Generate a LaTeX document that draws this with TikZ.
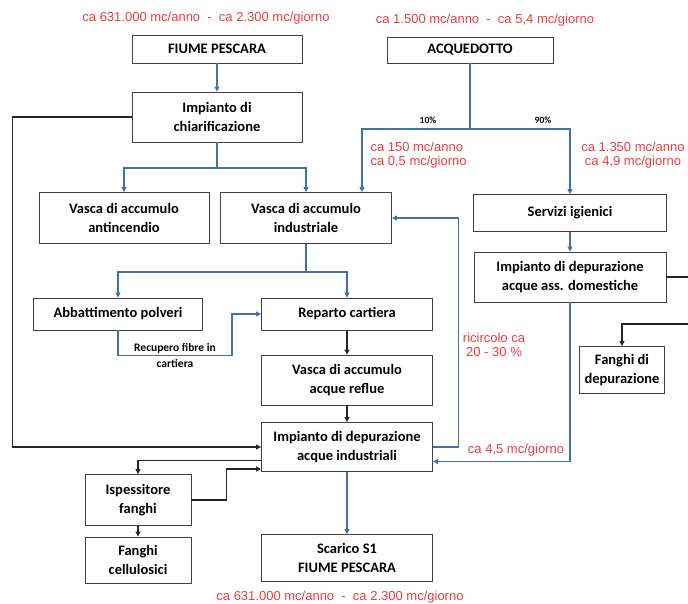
\documentclass[tikz,border=0pt]{standalone}
\usepackage{fontspec}
\setmainfont{Carlito}
\newfontfamily\redfont{Liberation Sans}
\usetikzlibrary{arrows.meta}
\definecolor{flowblue}{RGB}{65,113,170}
\definecolor{flowred}{RGB}{238,60,60}
\tikzset{
  box/.style={draw=black!75, line width=0.9pt, fill=white, align=center,
    inner sep=2pt, font=\bfseries\fontsize{14.5}{19}\selectfont},
  redtext/.style={text=flowred, font=\redfont\fontsize{13}{14.5}\selectfont},
  pct/.style={font=\bfseries\fontsize{9.5}{10}\selectfont, above},
  small/.style={font=\bfseries\fontsize{11.5}{16}\selectfont, align=center},
  bluepath/.style={draw=flowblue, line width=1.2pt},
  blueline/.style={bluepath, -{Triangle[length=5pt,width=5pt]}},
  blackline/.style={draw=black!85, line width=1.2pt, -{Triangle[length=5pt,width=5pt]}}
}
\begin{document}
\begin{tikzpicture}[x=1pt, y=-1pt]
\useasboundingbox (0,0) rectangle (688,603);
\node [box, minimum width=170, minimum height=28] (fiume) at (217,49) {FIUME PESCARA};
\node [box, minimum width=170, minimum height=50] (chiar) at (217,117) {Impianto di\\chiarificazione};
\node [box, minimum width=166, minimum height=26] (acq) at (470,50) {ACQUEDOTTO};
\node [box, minimum width=170, minimum height=51] (antinc) at (124,218) {Vasca di accumulo\\antincendio};
\node [box, minimum width=171, minimum height=51] (indust) at (306,218) {Vasca di accumulo\\industriale};
\node [box, minimum width=169, minimum height=32] (abbat) at (118,314) {Abbattimento polveri};
\node [box, minimum width=171, minimum height=32] (reparto) at (347,314) {Reparto cartiera};
\node [box, minimum width=171, minimum height=50] (reflue) at (347,380) {Vasca di accumulo\\acque reflue};
\node [box, minimum width=171, minimum height=49] (depind) at (347,447) {Impianto di depurazione\\acque industriali};
\node [box, minimum width=106, minimum height=51] (ispess) at (138,500) {Ispessitore\\fanghi};
\node [box, minimum width=106, minimum height=46] (cellul) at (138,560) {Fanghi\\cellulosici};
\node [box, minimum width=171, minimum height=47] (scarico) at (347,558) {Scarico S1\\FIUME PESCARA};
\node [box, minimum width=193, minimum height=37] (servizi) at (570,213) {Servizi igienici};
\node [box, minimum width=192, minimum height=50] (domest) at (570,277) {Impianto di depurazione\\acque ass. domestiche};
\node [box, minimum width=85, minimum height=47] (fanghi) at (622,370) {Fanghi di\\depurazione};
\node [redtext] (qfiume) at (206,18) {ca 631.000 mc/anno \ - \ ca 2.300 mc/giorno};
\node [redtext] (qacq) at (485,20) {ca 1.500 mc/anno \ - \ ca 5,4 mc/giorno};
\node [redtext, align=left, anchor=west] (q150) at (367,155) {ca 150 mc/anno\\ca 0,5 mc/giorno};
\node [redtext, align=center] (q1350) at (633,155) {ca 1.350 mc/anno\\ca 4,9 mc/giorno};
\node [redtext, align=center] (qric) at (494,345) {ricircolo ca\\20 - 30 \%};
\node [redtext] (q45) at (516,450) {ca 4,5 mc/giorno};
\node [redtext] (qscar) at (340,597) {ca 631.000 mc/anno \ - \ ca 2.300 mc/giorno};
\coordinate (splitA) at (217,168);
\coordinate (splitB) at (470,129);
\coordinate (splitC) at (306,272);
\node [pct] (p10) at (428,127) {10\%};
\node [pct] (p90) at (543,127) {90\%};
\draw [blueline] (fiume) -- (chiar);
\draw [bluepath] (chiar) -- (splitA);
\draw [blueline] (splitA) -| (antinc.north);
\draw [blueline] (splitA) -| (indust.north);
\draw [bluepath] (acq) -- (splitB);
\draw [blueline] (splitB) -| ([xshift=-30pt]indust.north east);
\draw [blueline] (splitB) -| (servizi.north);
\draw [bluepath] (indust) -- (splitC);
\draw [blueline] (splitC) -| (abbat.north);
\draw [blueline] (splitC) -| (reparto.north);
\draw [blueline] (abbat.south) -- ++(0,25) -- node [small] {Recupero fibre in\\cartiera} ++(114,0) |- (reparto.west);
\draw [blackline] (reparto) -- (reflue);
\draw [blackline] (reflue) -- (depind);
\draw [blackline] (chiar.west) -- ++(-119,0) |- (depind.west);
\draw [blackline] ([yshift=-13.5pt]depind.west) -| (ispess.north);
\draw [blackline] (ispess.east) -- ++(35,0) |- ([yshift=-22pt]depind.west);
\draw [blackline] (ispess) -- (cellul);
\draw [blueline] (depind) -- (scarico);
\draw [blueline] (servizi) -- (domest);
\draw [blackline] (domest.east) -- ++(24,0) -- ++(0,47) -| (fanghi.north);
\draw [blueline] (domest.south) |- ([yshift=-14.5pt]depind.east);
\draw [blueline] (depind.east) -- ++(25.5,0) |- (indust.east);
\end{tikzpicture}
\end{document}
